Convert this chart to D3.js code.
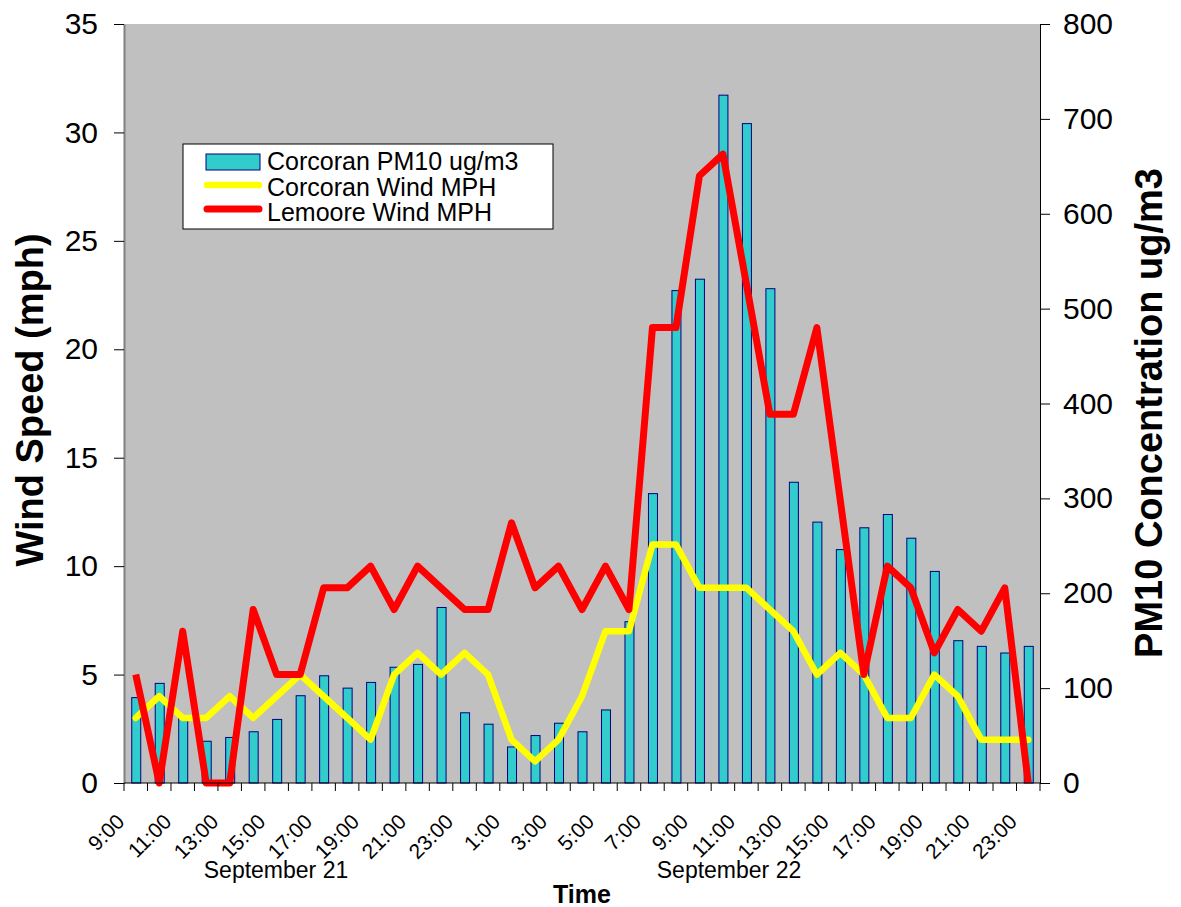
<!DOCTYPE html>
<html lang="en">
<head>
    <meta charset="UTF-8">
    <script src="https://d3js.org/d3.v7.min.js"></script>
    <style>
        body { margin: 0; background: #fff; }
        text { font-family: "Liberation Sans", Arial, sans-serif; fill: #000; }
    </style>
</head>
<body>
    <svg id="chart" width="1181" height="907"></svg>

    <script>
        // hourly categories, 9:00 Sept 21 to 23:00 Sept 22
        const hours = ["9:00","10:00","11:00","12:00","13:00","14:00","15:00","16:00","17:00","18:00",
            "19:00","20:00","21:00","22:00","23:00","0:00","1:00","2:00","3:00","4:00","5:00","6:00",
            "7:00","8:00","9:00","10:00","11:00","12:00","13:00","14:00","15:00","16:00","17:00",
            "18:00","19:00","20:00","21:00","22:00","23:00"];

        const pm10 = [90,105,68,44,48,54,67,92,113,100,106,122,125,185,74,62,38,50,63,54,77,170,
            305,519,531,725,695,521,317,275,246,269,283,258,223,150,144,137,144];

        const corcoranWind = [3,4,3,3,4,3,4,5,4,3,2,5,6,5,6,5,2,1,2,4,7,7,11,11,9,9,9,8,7,5,6,5,
            3,3,5,4,2,2,2];

        const lemooreWind = [5,0,7,0,0,8,5,5,9,9,10,8,10,9,8,8,12,9,10,8,10,8,21,21,28,29,23,17,
            17,21,13,5,10,9,6,8,7,9,0];

        const windTicks = [0,5,10,15,20,25,30,35];
        const pmTicks = [0,100,200,300,400,500,600,700,800];
        const dates = [{label: "September 21", x: 276}, {label: "September 22", x: 729}];

        const svg = d3.select("#chart");
        const plotL = 124, plotR = 1040, plotT = 24, plotB = 783;

        const x = d3.scaleBand().domain(d3.range(hours.length)).range([plotL, plotR]);
        const yWind = d3.scaleLinear().domain([0, 35]).range([plotB, plotT]);
        const yPM = d3.scaleLinear().domain([0, 800]).range([plotB, plotT]);
        const cx = i => x(i) + x.bandwidth() / 2;

        svg.append("rect").attr("width", 1181).attr("height", 907).attr("fill", "#fff");
        svg.append("rect")
            .attr("x", plotL).attr("y", plotT)
            .attr("width", plotR - plotL).attr("height", plotB - plotT)
            .attr("fill", "#c0c0c0");

        // bars
        const barW = 9;
        svg.selectAll(".bar")
            .data(pm10)
            .enter().append("rect")
            .attr("class", "bar")
            .attr("x", (d, i) => cx(i) - barW / 2 + 0.5)
            .attr("y", d => yPM(d))
            .attr("width", barW)
            .attr("height", d => yPM(0) - yPM(d))
            .attr("fill", "#33cccc")
            .attr("stroke", "#000080")
            .attr("stroke-width", 1);

        // wind lines
        const line = d3.line().x((d, i) => cx(i)).y(d => yWind(d));
        svg.append("path").datum(corcoranWind)
            .attr("d", line).attr("fill", "none")
            .attr("stroke", "#ffff00").attr("stroke-width", 6.5)
            .attr("stroke-linejoin", "round").attr("stroke-linecap", "round");
        svg.append("path").datum(lemooreWind)
            .attr("d", line).attr("fill", "none")
            .attr("stroke", "#ff0000").attr("stroke-width", 7)
            .attr("stroke-linejoin", "round").attr("stroke-linecap", "butt");

        // left axis
        const gl = svg.append("g").attr("transform", `translate(${plotL},0)`)
            .call(d3.axisLeft(yWind).tickValues(windTicks).tickSize(10).tickSizeOuter(0).tickPadding(16));
        gl.select(".domain").attr("stroke", "#808080").attr("stroke-width", 2);
        gl.selectAll("text").attr("font-size", 30).attr("font-family", "Liberation Sans, Arial");

        // right axis
        const gr = svg.append("g").attr("transform", `translate(${plotR},0)`)
            .call(d3.axisRight(yPM).tickValues(pmTicks).tickSize(10).tickSizeOuter(0).tickPadding(13));
        gr.selectAll("text").attr("font-size", 30).attr("font-family", "Liberation Sans, Arial");

        // bottom axis
        svg.append("line").attr("x1", plotL).attr("x2", plotR)
            .attr("y1", plotB).attr("y2", plotB).attr("stroke", "#000");
        svg.selectAll(".xtick")
            .data(d3.range(hours.length + 1))
            .enter().append("line")
            .attr("class", "xtick")
            .attr("x1", i => (i < hours.length ? x(i) : plotR))
            .attr("x2", i => (i < hours.length ? x(i) : plotR))
            .attr("y1", plotB).attr("y2", plotB + 8)
            .attr("stroke", "#000");

        svg.selectAll(".xlabel")
            .data(hours.map((h, i) => ({h, i})).filter(d => d.i % 2 === 0))
            .enter().append("text")
            .attr("class", "xlabel")
            .attr("transform", d => `translate(${cx(d.i) - 10},823) rotate(-45)`)
            .attr("text-anchor", "end")
            .attr("font-size", 21)
            .text(d => d.h);

        svg.selectAll(".date")
            .data(dates)
            .enter().append("text")
            .attr("x", d => d.x).attr("y", 878)
            .attr("text-anchor", "middle")
            .attr("font-size", 23)
            .text(d => d.label);

        // titles
        svg.append("text")
            .attr("transform", "translate(43,400) rotate(-90)")
            .attr("text-anchor", "middle")
            .attr("font-size", 38).attr("font-weight", "bold")
            .text("Wind Speed (mph)");
        svg.append("text")
            .attr("transform", "translate(1162,413) rotate(-90)")
            .attr("text-anchor", "middle")
            .attr("font-size", 38).attr("font-weight", "bold")
            .text("PM10 Concentration ug/m3");
        svg.append("text")
            .attr("x", 582).attr("y", 903)
            .attr("text-anchor", "middle")
            .attr("font-size", 25).attr("font-weight", "bold")
            .text("Time");

        // legend
        const lg = svg.append("g");
        lg.append("rect").attr("x", 183).attr("y", 144).attr("width", 370).attr("height", 85)
            .attr("fill", "#fff").attr("stroke", "#000");
        lg.append("rect").attr("x", 206).attr("y", 154).attr("width", 54).attr("height", 16)
            .attr("fill", "#33cccc").attr("stroke", "#000080");
        lg.append("line").attr("x1", 207).attr("x2", 259).attr("y1", 185).attr("y2", 185)
            .attr("stroke", "#ffff00").attr("stroke-width", 6.5).attr("stroke-linecap", "round");
        lg.append("line").attr("x1", 207).attr("x2", 259).attr("y1", 209).attr("y2", 209)
            .attr("stroke", "#ff0000").attr("stroke-width", 7).attr("stroke-linecap", "round");
        const legendLabels = ["Corcoran PM10 ug/m3", "Corcoran Wind MPH", "Lemoore Wind MPH"];
        lg.selectAll(".lt").data(legendLabels).enter().append("text")
            .attr("x", 267).attr("y", (d, i) => 170 + i * 25.5)
            .attr("font-size", 25)
            .text(d => d);
    </script>
</body>
</html>
